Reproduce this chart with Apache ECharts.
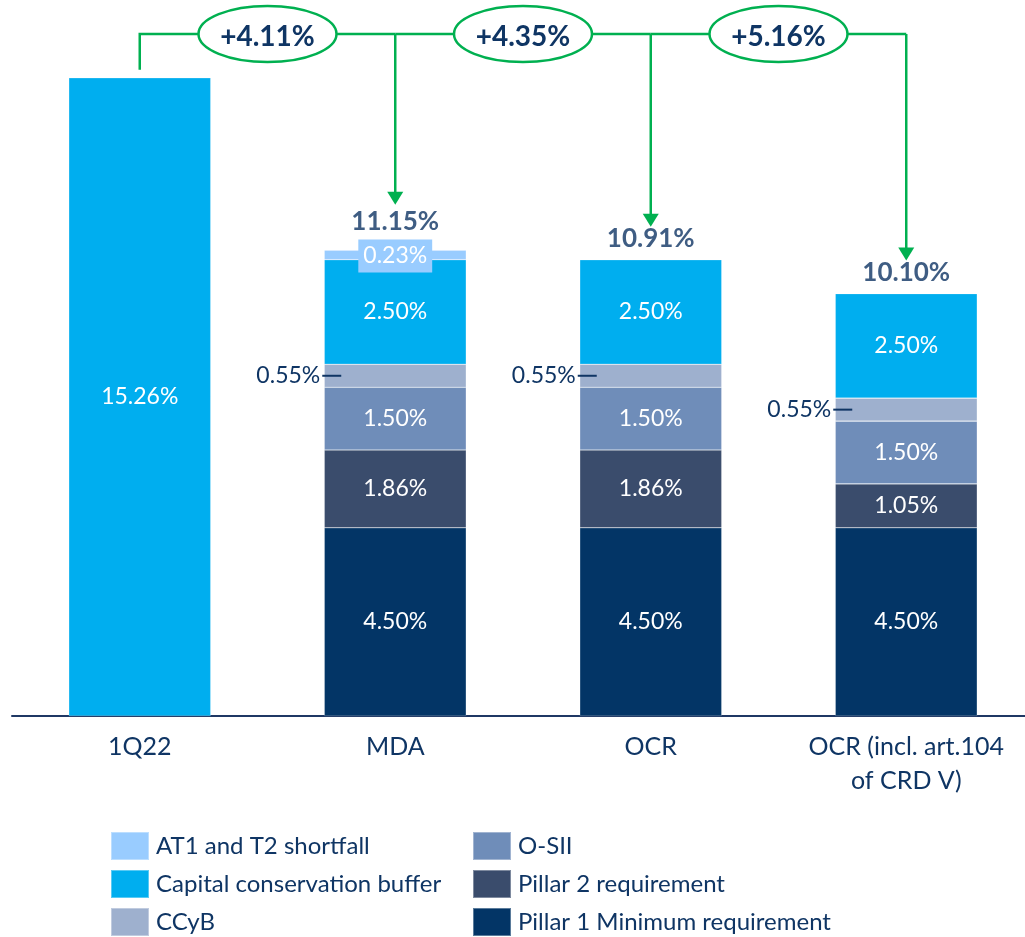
<!DOCTYPE html>
<html><head><meta charset="utf-8">
<script src="https://cdn.jsdelivr.net/npm/echarts@6/dist/echarts.min.js"></script>
<style>html,body{margin:0;padding:0;background:#fff}#c{width:1025px;height:937px}</style>
</head><body><div id="c"></div>
<script>
var categories = ['1Q22', 'MDA', 'OCR', 'OCR (incl. art.104\nof CRD V)'];
var q122 = [15.26, '-', '-', '-'];
var pillar1 = ['-', 4.50, 4.50, 4.50];
var pillar2 = ['-', 1.86, 1.86, 1.05];
var osii = ['-', 1.50, 1.50, 1.50];
var ccyb = ['-', 0.55, 0.55, 0.55];
var ccb = ['-', 2.50, 2.50, 2.50];
var at1 = ['-', 0.23, '-', '-'];
var totals = ['-', 11.15, 10.91, 10.10];
var increments = ['+4.11%', '+4.35%', '+5.16%'];
var incFrom = [0, 1, 2];
var incTo = [1, 2, 3];

var NAVY = '#0F3564';
var GREEN = '#00B050';
var FONT = 'Lato';
var colors = {
  at1: '#99CCFF', ccb: '#00AEEF', ccyb: '#9EB0CE', osii: '#6F8DB9', p2: '#3A4C6C', p1: '#033566'
};

var chart = echarts.init(document.getElementById('c'));
var inLabel = {show: true, position: 'inside', color: '#fff', fontSize: 23, fontFamily: FONT,
  formatter: function (p) { return p.value.toFixed(2) + '%'; }};

function barSeries(name, data, color, label) {
  return {name: name, type: 'bar', stack: 'a', data: data, barWidth: 142,
    itemStyle: {color: color, borderColor: 'rgba(255,255,255,0.35)', borderWidth: 0.6},
    label: label || inLabel, emphasis: {disabled: true}};
}

var bracketData = incFrom.map(function (f, i) {
  var t = incTo[i];
  return [f, t, f === 0 ? q122[0] : totals[f], totals[t], i];
});
var tipOffsets = [45, 33, 33];

var legendText = {color: NAVY, fontSize: 24, fontFamily: FONT, padding: [0, 0, 0, 2]};
var option = {
  animation: false,
  textStyle: {fontFamily: FONT},
  grid: {left: 12, width: 1022, top: 5, bottom: 221, containLabel: false, outerBoundsMode: 'none'},
  xAxis: {type: 'category', data: categories,
    axisLine: {lineStyle: {color: '#1F3864', width: 2}},
    axisTick: {show: false},
    axisLabel: {color: NAVY, fontSize: 25, fontFamily: FONT, margin: 14, lineHeight: 34, interval: 0}},
  yAxis: {type: 'value', min: 0, max: 17, show: false, splitLine: {show: false}},
  legend: [
    {orient: 'vertical', left: 110, top: 831, height: 140, itemWidth: 38, itemHeight: 28, itemGap: 8, icon: 'rect',
      textStyle: legendText, padding: 0,
      data: ['AT1 and T2 shortfall', 'Capital conservation buffer', 'CCyB'], selectedMode: false},
    {orient: 'vertical', left: 472, top: 831, height: 140, itemWidth: 38, itemHeight: 28, itemGap: 8, icon: 'rect',
      textStyle: legendText, padding: 0,
      data: ['O-SII', 'Pillar 2 requirement', 'Pillar 1 Minimum requirement'], selectedMode: false}
  ],
  series: [
    barSeries('1Q22', q122, colors.ccb),
    barSeries('Pillar 1 Minimum requirement', pillar1, colors.p1),
    barSeries('Pillar 2 requirement', pillar2, colors.p2),
    barSeries('O-SII', osii, colors.osii),
    barSeries('CCyB', ccyb, colors.ccyb, {
      show: true, position: 'left', distance: -17,
      formatter: function (p) { return '{t|' + p.value.toFixed(2) + '%}{l|}'; },
      rich: {
        t: {color: NAVY, fontSize: 23, fontFamily: FONT, padding: [0, 2, 0, 0]},
        l: {width: 19, height: 2, backgroundColor: NAVY, verticalAlign: 'middle'}
      }}),
    barSeries('Capital conservation buffer', ccb, colors.ccb),
    barSeries('AT1 and T2 shortfall', at1, colors.at1, {
      show: true, position: 'inside', color: '#fff', fontSize: 23, fontFamily: FONT,
      backgroundColor: colors.at1, padding: [6, 5, 4, 5], offset: [0, 1],
      formatter: function (p) { return p.value.toFixed(2) + '%'; }}),
    {type: 'scatter', symbolSize: 0.01, silent: true,
      data: totals.map(function (v, i) {
        return {value: v, label: {distance: i === 1 ? 15 : 8}};
      }),
      label: {show: true, position: 'top', color: NAVY, fontSize: 26, fontWeight: 'bold', fontFamily: FONT,
        formatter: function (p) { return p.value.toFixed(2) + '%'; }}},
    {type: 'custom', silent: true, z: 10, data: bracketData,
      renderItem: function (params, api) {
        var f = api.value(0), t = api.value(1), fromV = api.value(2), toV = api.value(3), idx = api.value(4);
        var pf = api.coord([f, fromV]);
        var pt = api.coord([t, toV]);
        var topY = 34;
        var tipY = pt[1] - tipOffsets[idx];
        var children = [];
        var lineStyle = {stroke: GREEN, lineWidth: 2.5, fill: null};
        if (f === 0) {
          children.push({type: 'polyline', shape: {points: [[pf[0], pf[1] - 8], [pf[0], topY], [pt[0], topY]]}, style: lineStyle});
        } else {
          children.push({type: 'line', shape: {x1: pf[0], y1: topY, x2: pt[0], y2: topY}, style: lineStyle});
        }
        children.push({type: 'line', shape: {x1: pt[0], y1: topY, x2: pt[0], y2: tipY - 12}, style: lineStyle});
        children.push({type: 'polygon', shape: {points: [[pt[0] - 8, tipY - 13], [pt[0] + 8, tipY - 13], [pt[0], tipY]]},
          style: {fill: GREEN}});
        var cx = (pf[0] + pt[0]) / 2;
        children.push({type: 'ellipse', shape: {cx: cx, cy: topY, rx: 69, ry: 28},
          style: {fill: '#fff', stroke: GREEN, lineWidth: 2.5}});
        children.push({type: 'text', x: cx, y: topY + 3,
          style: {text: increments[idx], fill: NAVY, font: 'bold 28px ' + FONT, align: 'center', verticalAlign: 'middle'}});
        return {type: 'group', children: children};
      }}
  ]
};
chart.setOption(option);
</script>
</body></html>
